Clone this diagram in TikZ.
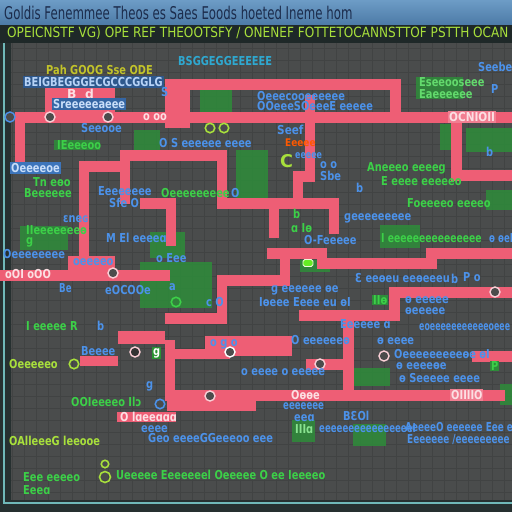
\documentclass[tikz,border=0pt]{standalone}
\usepackage{fontspec}
\setmainfont{DejaVu Sans}
\definecolor{panel}{HTML}{4A4C4C}
\definecolor{gridc}{HTML}{414343}
\definecolor{pinkc}{HTML}{EE5E75}
\definecolor{blu}{HTML}{4C92EA}
\definecolor{grn}{HTML}{3CD048}
\definecolor{gbox}{HTML}{2E8C3A}
\definecolor{ylg}{HTML}{A8E03C}
\definecolor{titleA}{HTML}{6D9CC6}
\definecolor{titleB}{HTML}{4C7AA6}
\definecolor{titletx}{HTML}{1C2C4C}
\definecolor{hdr}{HTML}{1E2828}
\definecolor{edgec}{HTML}{263030}
\definecolor{tealc}{HTML}{6FB8B8}
\definecolor{cyanl}{HTML}{2FA8D0}
\tikzset{
  lab/.style={inner sep=0.5pt, anchor=west, font=\bfseries\fontsize{7}{7}\selectfont},
  bl/.style={lab, text=blu},
  gr/.style={lab, text=grn},
  yg/.style={lab, text=ylg},
  onpink/.style={lab, text=white!80!pinkc},
  route/.style={draw=pinkc, line width=0.22cm, line cap=rect, line join=miter},
  pad/.style={fill=pinkc},
  gpatch/.style={fill=gbox, opacity=0.85},
  ring/.style={circle, draw=ylg, line width=0.9pt, minimum size=0.19cm, inner sep=0},
  pring/.style={circle, draw=white!70!pinkc, fill=gray!60!black, line width=0.8pt, minimum size=0.2cm, inner sep=0},
  chip/.style={rounded corners=1pt, fill=ylg!60!green, draw=white!80!ylg, line width=0.5pt, minimum width=0.2cm, minimum height=0.14cm, inner sep=0},
}
\begin{document}
\begin{tikzpicture}[x=0.02cm,y=-0.02cm]
\useasboundingbox (0,0) rectangle (512,512);
% window frame, title bar and header strip
\fill[panel] (0,0) rectangle (512,512);
\shade[top color=titleA, bottom color=titleB] (0,0) rectangle (512,25);
\fill[hdr] (0,25) rectangle (512,43);
\fill[edgec] (0,43) rectangle (11,512);
\fill[edgec] (0,500) rectangle (512,512);
\draw[tealc, line width=0.6pt] (4,43) -- (4,503) -- (512,503);
% background grid
\foreach \gx in {12,24,...,504} \draw[gridc, line width=0.4pt] (\gx,43) -- (\gx,500);
\foreach \gy in {48,60,...,492} \draw[gridc, line width=0.4pt] (11,\gy) -- (512,\gy);

\node[lab, text=titletx, font=\fontsize{10}{10}\selectfont] (title) at (3,13)
  {\scalebox{0.67}[1]{Goldis Fenemmee Theos es Saes Eoods hoeted Ineme hom}};
\node[lab, text=ylg, font=\fontsize{8}{8}\selectfont] (header) at (6,33)
  {\scalebox{0.86}[1]{OPEICNSTF VG) OPE REF THEOOTSFY / ONENEF FOTTETOCANNSTTOF PSTTH OCAN}};

% green patches
\fill[gpatch] (200,88) rectangle (232,112);
\fill[gpatch] (416,77) rectangle (463,99);
\fill[gpatch] (236,150) rectangle (268,198);
\fill[gpatch] (440,124) rectangle (456,150);
\fill[gpatch] (466,128) rectangle (512,152);
\fill[gpatch] (486,190) rectangle (512,210);
\fill[gpatch] (380,225) rectangle (420,248);
\fill[gpatch] (150,232) rectangle (185,258);
\fill[gpatch] (140,262) rectangle (212,308);
\fill[gpatch] (20,226) rectangle (68,250);
\fill[gpatch] (54,140) rectangle (100,150);
\fill[gpatch] (134,130) rectangle (160,150);
\fill[gpatch] (228,338) rectangle (256,356);
\fill[gpatch] (350,368) rectangle (390,386);
\fill[gpatch] (292,420) rectangle (315,442);
\fill[gpatch] (353,424) rectangle (386,446);
\fill[gpatch] (500,384) rectangle (512,405);
\fill[gpatch] (300,260) rectangle (330,272);

% pink routes
\draw[route] (20,117) -- (507,117);
\draw[route] (20,117) -- (20,160);
\draw[route] (170,117) -- (170,84) -- (396,84) -- (396,117);
\fill[pad] (45,88) rectangle (115,112);
\fill[pad] (165,88) rectangle (190,128);
\draw[route] (125,198) -- (125,155) -- (222,155) -- (222,203) -- (334,203) -- (334,228);
\draw[route] (84,253) -- (84,166) -- (122,166);
\draw[route] (145,203) -- (171,203) -- (171,240);
\draw[route] (310,100) -- (310,176) -- (298,176) -- (298,198);
\draw[route] (457,117) -- (457,175) -- (507,175);
\draw[route] (274,213) -- (274,232);
\draw[route] (272,253) -- (322,253) -- (322,263) -- (432,263) -- (432,253) -- (507,253);
\draw[route] (285,253) -- (285,280) -- (222,280) -- (222,318) -- (170,318);
\draw[route] (5,275) -- (165,275);
\fill[pad] (68,256) rectangle (115,281);
\draw[route] (304,315) -- (395,315) -- (395,292) -- (507,292);
\draw[route] (349,321) -- (349,395);
\draw[route] (311,364) -- (349,364);
\draw[route] (478,356) -- (507,356);
\fill[pad] (205,336) rectangle (292,356);
\fill[pad] (118,331) rectangle (165,344);
\fill[pad] (167,349) rectangle (230,359);
\fill[pad] (80,356) rectangle (118,366);
\draw[route] (170,345) -- (170,395) -- (500,395);
\fill[pad] (167,391) rectangle (256,411);
\fill[pad] (117,412) rectangle (176,422);

% labels, top half
\node[bl, text=cyanl] (t1) at (177,61) {\scalebox{0.8}[1]{BSGGEGGEEEEEE}};
\node[bl] (t2) at (477,67) {\scalebox{0.8}[1]{Seebe}};
\node[yg, text=ylg!70!orange] (t3) at (45,70) {\scalebox{0.8}[1]{Pah GOOG Sse ODE}};
\node[lab, fill=blu!60!black, text=blu!40!white] (t4) at (23,82) {\scalebox{0.8}[1]{BEIGBEGGGECGCCCGGLG}};
\node[onpink] (t5) at (66,94) {B \ d};
\node[lab, fill=blu!70!black, text=blu!30!white] (t6) at (52,104) {\scalebox{0.8}[1]{Sreeeeeaeee}};
\node[bl] (t7) at (160,92) {\scalebox{0.8}[1]{S}};
\node[lab, text=grn!80!white] (t8) at (418,82) {\scalebox{0.8}[1]{Eseeooseee}};
\node[lab, text=grn!80!white] (t9) at (418,94) {\scalebox{0.8}[1]{Eaeeeeee}};
\node[bl] (t10) at (256,96) {\scalebox{0.8}[1]{Oeeecooeeeeee}};
\node[bl] (t11) at (256,106) {\scalebox{0.8}[1]{OOeeeSOeeeE eeeee}};
\node[bl] (t12) at (490,89) {\scalebox{0.8}[1]{P}};
\node[pring, draw=blu] (c1) at (10,117) {};
\node[pring] (c2) at (50,117) {};
\node[pring] (c3) at (108,117) {};
\node[onpink] (t13) at (142,117) {\scalebox{0.8}[1]{o oo}};
\node[onpink, fill=pinkc!80!white] (t14) at (448,117) {\scalebox{0.85}[1]{OCNIOII}};
\node[bl] (t15) at (80,128) {\scalebox{0.8}[1]{Seeooe}};
\node[ring] (c4) at (210,128) {};
\node[ring] (c5) at (224,128) {};
\node[gr] (t16) at (56,145) {\scalebox{0.8}[1]{IEeeeoo}};
\node[bl] (t17) at (158,143) {\scalebox{0.8}[1]{O S eeeeee eeee}};
\node[bl] (t18) at (276,130) {\scalebox{0.85}[1]{Seef}};
\node[lab, text=orange!70!red, font=\bfseries\fontsize{6}{6}\selectfont] (t19) at (284,143) {\scalebox{0.85}[1]{Eeeee}};
\node[bl, font=\bfseries\fontsize{6}{6}\selectfont] (t20) at (294,156) {\scalebox{0.75}[1]{eeeee}};
\node[bl] (t21) at (485,152) {\scalebox{0.8}[1]{b}};
\node[lab, text=ylg, font=\bfseries\fontsize{10}{10}\selectfont] (t22) at (279,161) {C};
\node[lab, fill=blu!80!black, text=blu!30!white] (t23) at (10,168) {\scalebox{0.8}[1]{Oeeeeoe}};
\node[bl] (t24) at (319,165) {\scalebox{0.8}[1]{o o}};
\node[bl] (t25) at (319,176) {\scalebox{0.8}[1]{Sbe}};
\node[gr] (t26) at (366,168) {\scalebox{0.8}[1]{Aneeeo eeeeg}};
\node[gr] (t27) at (380,181) {\scalebox{0.8}[1]{E eeee eeeeeo}};
\node[gr] (t28) at (32,182) {\scalebox{0.8}[1]{Tn eɵo}};
\node[gr] (t29) at (23,193) {\scalebox{0.8}[1]{Beeeeee}};
\node[bl] (t30) at (97,191) {\scalebox{0.8}[1]{Eeeeeeee}};
\node[bl] (t31) at (108,203) {\scalebox{0.8}[1]{Sfe O}};
\node[gr] (t32) at (160,193) {\scalebox{0.8}[1]{Oeeeeeeeee}};
\node[bl] (t33) at (230,193) {\scalebox{0.8}[1]{O}};
\node[bl] (t34) at (355,188) {\scalebox{0.8}[1]{b}};
\node[gr] (t35) at (406,203) {\scalebox{0.8}[1]{Foeeeeo eeeeo}};
\node[bl] (t36) at (343,218) {\scalebox{0.8}[1]{ɡeeeeeeeee}};
\node[bl] (t37) at (62,219) {\scalebox{0.8}[1]{ɛneɢ}};
\node[gr] (t38) at (25,230) {\scalebox{0.8}[1]{IIeeeeeeeɵ}};
\node[gr] (t39) at (25,242) {\scalebox{0.8}[1]{g}};
\node[bl] (t40) at (105,238) {\scalebox{0.8}[1]{M El eeeeɑ}};
\node[gr] (t41) at (292,214) {\scalebox{0.8}[1]{b}};
\node[gr] (t42) at (290,228) {\scalebox{0.8}[1]{ɑ Iɵ}};
\node[bl] (t43) at (303,240) {\scalebox{0.8}[1]{O-Feeeee}};
\node[gr] (t44) at (380,238) {\scalebox{0.75}[1]{I eeeeeeeeeeeeeee}};
\node[bl] (t45) at (488,238) {\scalebox{0.7}[1]{ɵ ɵeI}};

% labels, bottom half
\node[bl] (t46) at (2,254) {\scalebox{0.8}[1]{Oeeeeeeee}};
\node[onpink] (t47) at (4,274) {\scalebox{0.8}[1]{oOI oOO}};
\node[bl] (t48) at (72,262) {\scalebox{0.8}[1]{oeeeeo}};
\node[bl] (t49) at (155,258) {\scalebox{0.8}[1]{o Eee}};
\node[pring] (c6) at (113,273) {};
\node[bl] (t50) at (58,288) {\scalebox{0.7}[1]{Be}};
\node[bl] (t51) at (104,290) {\scalebox{0.8}[1]{eOCOOe}};
\node[bl] (t52) at (168,287) {\scalebox{0.8}[1]{a}};
\node[ring, draw=grn] (c7) at (176,302) {};
\node[bl] (t53) at (205,302) {\scalebox{0.8}[1]{c O}};
\node[chip] (t54) at (308,263) {};
\node[bl] (t55) at (354,278) {\scalebox{0.8}[1]{Ɛ eeɵeu eeɵeeeu}};
\node[bl] (t56) at (450,279) {\scalebox{0.8}[1]{b}};
\node[bl] (t57) at (462,277) {\scalebox{0.8}[1]{P o}};
\node[pring] (c8) at (495,292) {};
\node[bl] (t58) at (270,290) {\scalebox{0.8}[1]{ɡ eeeeee ɵe}};
\node[bl] (t59) at (258,302) {\scalebox{0.8}[1]{Iɵeee Eeee eu ɵI}};
\node[lab, text=grn, fill=gbox] (t60) at (372,300) {\scalebox{0.8}[1]{IIɵ}};
\node[bl] (t61) at (404,300) {\scalebox{0.8}[1]{ɵ eeeee}};
\node[bl] (t62) at (404,311) {\scalebox{0.8}[1]{ɵeeeee}};
\node[gr] (t63) at (25,326) {\scalebox{0.8}[1]{I eeeee R}};
\node[bl] (t64) at (96,326) {\scalebox{0.8}[1]{b}};
\node[bl] (t65) at (339,324) {\scalebox{0.8}[1]{Eeeeee ɑ}};
\node[bl] (t66) at (418,327) {\scalebox{0.64}[1]{eoeeeeeeeeeeeoeee}};
\node[bl] (t67) at (290,340) {\scalebox{0.8}[1]{O eeeeeeɵ}};
\node[bl] (t68) at (376,341) {\scalebox{0.8}[1]{ɵ eeee}};
\node[bl] (t69) at (80,351) {\scalebox{0.8}[1]{Beeee}};
\node[pring, fill=black!80] (c9) at (135,352) {};
\node[lab, text=white, fill=grn!70!black] (t70) at (152,353) {\scalebox{0.8}[1]{g}};
\node[bl] (t71) at (209,344) {\scalebox{0.8}[1]{o g o}};
\node[pring, draw=white] (c10) at (230,352) {};
\node[bl] (t72) at (393,354) {\scalebox{0.8}[1]{Oeeeeeeeeeɵe ɵI}};
\node[pring] (c11) at (384,356) {};
\node[pring] (c12) at (320,364) {};
\node[yg] (t73) at (8,364) {\scalebox{0.8}[1]{Oeeeeeo}};
\node[ring] (c13) at (74,364) {};
\node[bl] (t74) at (395,366) {\scalebox{0.8}[1]{ɵ eeeeɵe}};
\node[bl] (t75) at (398,378) {\scalebox{0.8}[1]{ɵ Seeeee eeee}};
\node[lab, text=grn, fill=gbox] (t76) at (490,366) {\scalebox{0.8}[1]{P}};
\node[bl] (t77) at (240,372) {\scalebox{0.8}[1]{o eeee o eeeee}};
\node[bl] (t78) at (145,386) {\scalebox{0.8}[1]{g}};
\node[gr] (t79) at (70,402) {\scalebox{0.8}[1]{OOIeeeeo Ilɔ}};
\node[ring, draw=blu] (c14) at (160,404) {};
\node[pring] (c15) at (210,396) {};
\node[onpink] (t80) at (290,395) {\scalebox{0.8}[1]{Oɵɵe}};
\node[onpink, fill=pinkc!80!white] (t81) at (450,395) {\scalebox{0.8}[1]{OIIIIO}};
\node[onpink] (t82) at (119,417) {\scalebox{0.8}[1]{O lɑeeɑɑɑ}};
\node[bl] (t83) at (282,406) {\scalebox{0.7}[1]{eeeeeee}};
\node[bl] (t84) at (293,418) {\scalebox{0.8}[1]{eeɑ}};
\node[bl] (t85) at (342,416) {\scalebox{0.8}[1]{BƐOl}};
\node[bl] (t86) at (140,429) {\scalebox{0.8}[1]{eeee}};
\node[bl] (t87) at (147,438) {\scalebox{0.8}[1]{Geo eeeeGGeeeoo eee}};
\node[lab, text=grn!60!white] (t88) at (294,429) {\scalebox{0.8}[1]{IIIɑ}};
\node[bl] (t89) at (318,428) {\scalebox{0.7}[1]{eeeeeeeeeeeeeeeeI}};
\node[bl] (t90) at (404,427) {\scalebox{0.72}[1]{AeeeeO eeeeee  Eee e}};
\node[bl] (t91) at (406,440) {\scalebox{0.72}[1]{Eeeeeee /eeeeeeeee}};
\node[yg] (t92) at (8,441) {\scalebox{0.8}[1]{OAlleeeG leeooe}};
\node[ring, minimum size=0.15cm] (c16) at (105,464) {};
\node[ring, minimum size=0.22cm] (c17) at (105,477) {};
\node[gr] (t93) at (22,477) {\scalebox{0.8}[1]{Eee eeeeo}};
\node[gr] (t94) at (22,490) {\scalebox{0.8}[1]{Eeeɑ}};
\node[gr] (t95) at (115,475) {\scalebox{0.8}[1]{Ueeeee Eeeeeeel Oeeeee O ee Ieeeeo}};
\end{tikzpicture}
\end{document}
